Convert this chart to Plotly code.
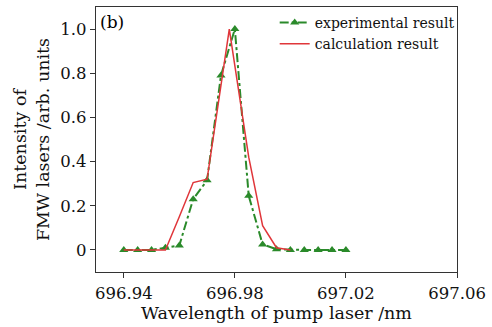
import plotly.graph_objects as go

# Experimental data
exp_x = [696.94, 696.945, 696.95, 696.955, 696.96, 696.965, 696.97, 696.975,
         696.98, 696.985, 696.99, 696.995, 697.0, 697.005, 697.01, 697.015, 697.02]
exp_y = [0, 0, 0, 0.01, 0.02, 0.23, 0.315, 0.79, 1.0, 0.245, 0.025, 0.003,
         0, 0, 0, 0, 0]

# Calculation data
calc_x = [696.94, 696.945, 696.95, 696.955, 696.96, 696.965, 696.97, 696.978,
          696.985, 696.99, 696.995, 697.0]
calc_y = [0, 0, 0, 0, 0.15, 0.305, 0.32, 1.0, 0.42, 0.11, 0.01, 0]

x_ticks = [696.94, 696.98, 697.02, 697.06]
x_tick_text = ["696.94", "696.98", "697.02", "697.06"]
y_ticks = [0, 0.2, 0.4, 0.6, 0.8, 1.0]
y_tick_text = ["0", "0.2", "0.4", "0.6", "0.8", "1.0"]

FONT = "DejaVu Serif"

fig = go.Figure()
fig.add_trace(go.Scatter(
    x=exp_x, y=exp_y, mode="lines+markers", name="experimental result",
    line=dict(color="#2a8a2a", width=2, dash="dashdot"),
    marker=dict(symbol="triangle-up", size=8, color="#2a8a2a"),
))
fig.add_trace(go.Scatter(
    x=calc_x, y=calc_y, mode="lines", name="calculation result",
    line=dict(color="#e0363a", width=1.5),
))

fig.add_annotation(x=0.005, y=0.99, xref="paper", yref="paper", text="(b)",
                   showarrow=False, xanchor="left", yanchor="top",
                   font=dict(family=FONT, size=17, color="black"))

fig.update_layout(
    width=492, height=327,
    margin=dict(l=96, r=35, t=7, b=55),
    paper_bgcolor="white", plot_bgcolor="white",
    font=dict(family=FONT, size=16.5, color="#111"),
    showlegend=True,
    legend=dict(x=0.495, y=1.0, xanchor="left", yanchor="top",
                bgcolor="rgba(0,0,0,0)", font=dict(family=FONT, size=14),
                itemwidth=30, tracegroupgap=0),
    xaxis=dict(range=[696.930, 697.06], tickvals=x_ticks, ticktext=x_tick_text,
               showgrid=False, zeroline=False, showline=True, linecolor="#333",
               linewidth=1.2, mirror=True, ticks="outside", ticklen=5,
               tickcolor="#333", ticklabelstandoff=1,
               title=dict(text="Wavelength of pump laser /nm", standoff=3,
                          font=dict(family=FONT, size=17.5))),
    yaxis=dict(range=[-0.1, 1.1], tickvals=y_ticks, ticktext=y_tick_text,
               showgrid=False, zeroline=False, showline=True, linecolor="#333",
               linewidth=1.2, mirror=True, ticks="outside", ticklen=5,
               tickcolor="#333",
               title=dict(text="Intensity of<br>FMW lasers /arb. units", standoff=6,
                          font=dict(family=FONT, size=17.5))),
)

fig.write_html("out.html")
